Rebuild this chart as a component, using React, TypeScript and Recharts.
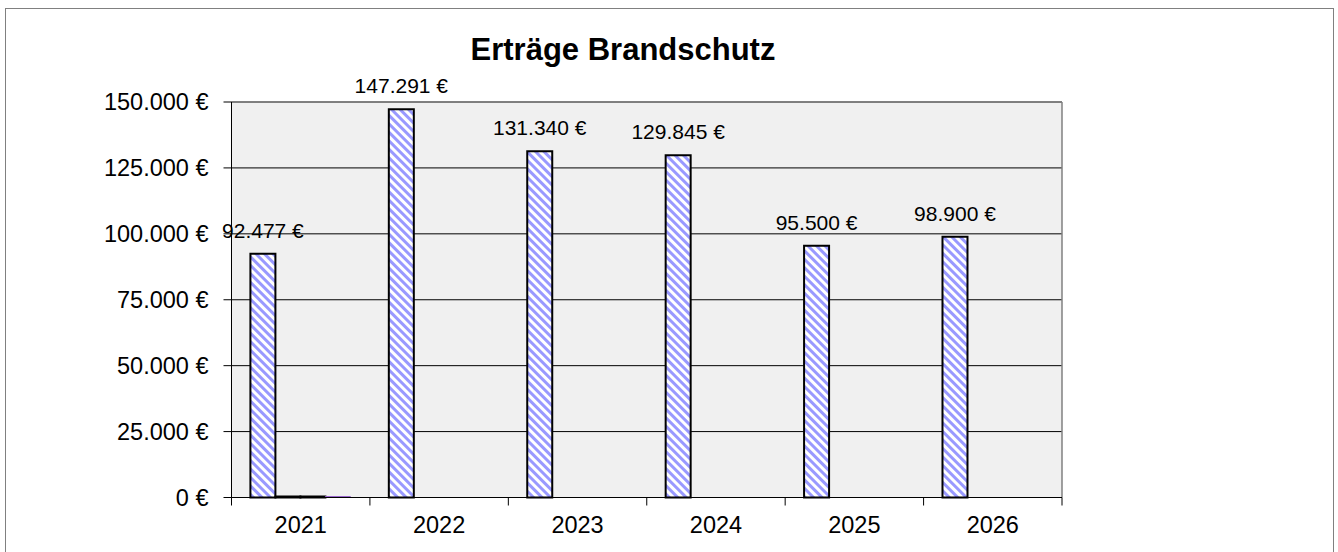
import React from "react";
import {
  BarChart,
  Bar,
  XAxis,
  YAxis,
  CartesianGrid,
  LabelList,
} from "recharts";

const years = ["2021", "2022", "2023", "2024", "2025", "2026"];
const ertraege = [92477, 147291, 131340, 129845, 95500, 98900];
const serieB = [0, null, null, null, null, null];
const serieC = [0, null, null, null, null, null];
const serieD = [0, null, null, null, null, null];
const yTicks = [0, 25000, 50000, 75000, 100000, 125000, 150000];
const title = "Erträge Brandschutz";

const data = years.map((y, i) => ({
  year: y,
  a: ertraege[i],
  b: serieB[i],
  c: serieC[i],
  d: serieD[i],
}));

const fmt = (v: number) =>
  String(Math.round(v)).replace(/\B(?=(\d{3})+(?!\d))/g, ".");
const euro = (v: any) => (v == null ? "" : `${fmt(Number(v))} €`);

const FONT = "'Liberation Sans', Arial, sans-serif";
const zeroMin = (v: any) => (v === 0 || (Array.isArray(v) && v[1] === 0) ? 1 : 0);

const renderLabel = (props: any) => {
  const { x, y, width, value } = props;
  if (value == null) return null;
  return (
    <text
      x={Number(x) + Number(width) / 2}
      y={Number(y) - 16}
      textAnchor="middle"
      fontFamily={FONT}
      fontSize={21}
      fill="#000000"
    >
      {euro(value)}
    </text>
  );
};

const XTick = (props: any) => {
  const { x, y, payload, index } = props;
  const half = payload && payload.offset != null ? Number(payload.offset) : 0;
  const isLast = index === years.length - 1;
  return (
    <g>
      <line x1={x - half} x2={x - half} y1={y} y2={y + 8} stroke="#000000" />
      {isLast && (
        <line x1={x + half} x2={x + half} y1={y} y2={y + 8} stroke="#000000" />
      )}
      <text
        x={x}
        y={y + 19}
        dy="0.71em"
        textAnchor="middle"
        fontFamily={FONT}
        fontSize={23.5}
        fill="#000000"
      >
        {payload.value}
      </text>
    </g>
  );
};

export default function App() {
  return (
    <div
      style={{
        position: "absolute",
        left: 0,
        top: 0,
        width: 1338,
        height: 552,
        overflow: "hidden",
        background: "#fff",
        fontFamily: FONT,
      }}
    >
      <svg width={0} height={0} style={{ position: "absolute" }}>
        <defs>
          <pattern
            id="stripes"
            width={6}
            height={6}
            patternUnits="userSpaceOnUse"
            patternTransform="rotate(-45)"
          >
            <rect x={0} y={0} width={6} height={6} fill="#ffffff" />
            <rect x={0} y={0} width={3} height={6} fill="#9999ff" />
          </pattern>
        </defs>
      </svg>
      <div
        style={{
          position: "absolute",
          left: 5,
          top: 8,
          width: 1329,
          height: 600,
          border: "1px solid #808080",
          boxSizing: "border-box",
        }}
      />
      <div style={{ position: "absolute", left: 0, top: 0 }}>
        <BarChart
          width={1338}
          height={552}
          data={data}
          margin={{ top: 102, right: 276, bottom: 53.5, left: 0 }}
          barCategoryGap="13.66%"
          barGap={0}
        >
          <CartesianGrid
            vertical={false}
            stroke="#000000"
            fill="#f0f0f0"
            fillOpacity={1}
          />
          <CartesianGrid
            horizontalCoordinatesGenerator={(p: any) => [p.offset.top]}
            verticalCoordinatesGenerator={(p: any) => [p.offset.left + p.offset.width]}
            stroke="#808080"
            strokeWidth={1.5}
          />
          <XAxis
            dataKey="year"
            height={1}
            axisLine={{ stroke: "#000000" }}
            tickLine={false}
            tickSize={0}
            tickMargin={0}
            interval={0}
            tick={<XTick />}
          />
          <YAxis
            width={231.5}
            domain={[0, 150000]}
            ticks={yTicks}
            interval={0}
            tickFormatter={euro}
            axisLine={{ stroke: "#000000" }}
            tickLine={{ stroke: "#000000" }}
            tickSize={8}
            tickMargin={15}
            tick={{ fill: "#000000", fontSize: 23.5, fontFamily: FONT }}
          />
          <Bar
            dataKey="a"
            fill="url(#stripes)"
            stroke="#000000"
            strokeWidth={2}
            isAnimationActive={false}
          >
            <LabelList dataKey="a" content={renderLabel} />
          </Bar>
          <Bar
            dataKey="b"
            fill="#ffffff"
            stroke="#000000"
            strokeWidth={2}
            minPointSize={zeroMin}
            isAnimationActive={false}
          />
          <Bar
            dataKey="c"
            fill="#ffffff"
            stroke="#000000"
            strokeWidth={2}
            minPointSize={zeroMin}
            isAnimationActive={false}
          />
          <Bar
            dataKey="d"
            fill="#9966cc"
            stroke="#9966cc"
            strokeWidth={1}
            minPointSize={zeroMin}
            isAnimationActive={false}
          />
        </BarChart>
      </div>
      <svg
        width={1338}
        height={552}
        style={{ position: "absolute", left: 0, top: 0, pointerEvents: "none" }}
      >
        <text
          x={623}
          y={60}
          textAnchor="middle"
          fontFamily={FONT}
          fontWeight="bold"
          fontSize={31}
          fill="#000000"
        >
          {title}
        </text>
      </svg>
    </div>
  );
}
